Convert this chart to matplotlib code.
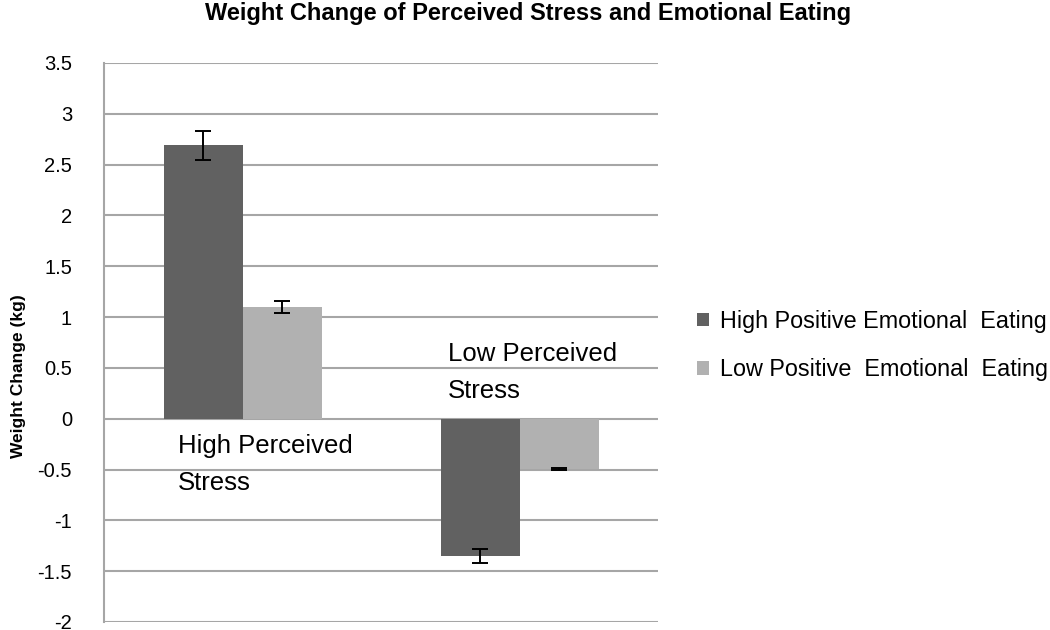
import matplotlib.pyplot as plt
import numpy as np

plt.rcParams['font.family'] = ['Liberation Sans', 'DejaVu Sans']

groups = ["High Perceived\nStress", "Low Perceived\nStress"]
series = ["High Positive Emotional  Eating", "Low Positive  Emotional  Eating"]
high_pee = [2.69, -1.35]
high_err = [0.14, 0.07]
low_pee = [1.10, -0.49]
low_err = [0.06, 0.01]
colors = ["#616161", "#b1b1b1"]
yticks = np.arange(-2, 3.51, 0.5)

fig = plt.figure(figsize=(10.5, 6.3), dpi=100)
ax = fig.add_axes([0.099, 0.0127, 0.528, 0.8873])

x = np.arange(len(groups))
w = 0.285
ax.bar(x - w / 2, high_pee, w, color=colors[0], label=series[0], zorder=3)
ax.bar(x + w / 2, low_pee, w, color=colors[1], label=series[1], zorder=3)
ax.errorbar(x - w / 2, high_pee, yerr=high_err, fmt='none', ecolor='black',
            elinewidth=1.4, capsize=5.5, capthick=1.4, zorder=4)
ax.errorbar(x + w / 2, low_pee, yerr=low_err, fmt='none', ecolor='black',
            elinewidth=1.4, capsize=5.5, capthick=1.4, zorder=4)

# category labels sit inside the plot
ax.text(-0.232, -0.15, groups[0], ha='left', va='top', fontsize=18.5, linespacing=1.7)
ax.text(0.742, 0.754, groups[1], ha='left', va='top', fontsize=18.5, linespacing=1.7)

ax.set_xlim(-0.5, 1.5)
ax.set_ylim(-2, 3.5)
ax.set_yticks(yticks)
ax.set_yticklabels([f"{v:g}" for v in yticks], fontsize=14.5)
ax.set_xticks([])
ax.yaxis.grid(True, color='#a6a6a6', linewidth=1.5, zorder=0)
for s in ['top', 'right', 'bottom']:
    ax.spines[s].set_visible(False)
ax.spines['left'].set_color('#a6a6a6')
ax.spines['left'].set_linewidth(1.5)
ax.tick_params(axis='y', length=0, pad=23)

ax.set_ylabel("Weight Change (kg)", fontsize=12.5, fontweight='bold')
ax.yaxis.set_label_coords(-0.14, 0.44)

fig.suptitle("Weight Change of Perceived Stress and Emotional Eating",
             x=0.503, y=0.997, fontsize=17, fontweight='bold', va='top')

leg = fig.legend(loc='center left', bbox_to_anchor=(0.644, 0.4516), frameon=False,
                 fontsize=16.8, handlelength=0.51, handleheight=0.51,
                 handletextpad=0.47, labelspacing=1.1)

fig.savefig('out.png', dpi=100)
